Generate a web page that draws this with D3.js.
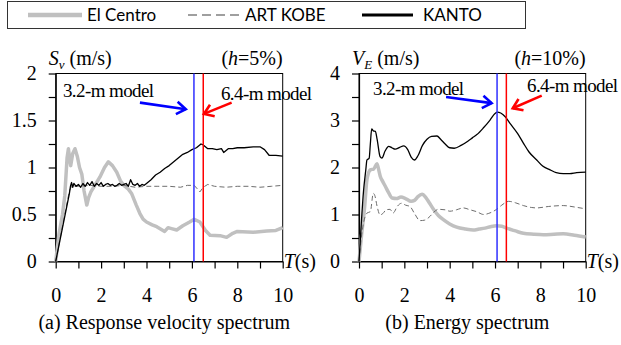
<!DOCTYPE html>
<html>
<head>
<meta charset="utf-8">
<script src="https://cdn.jsdelivr.net/npm/d3@7"></script>
<style>
body{margin:0;background:#fff;}
svg{display:block;}
.tick text{font-family:"Liberation Serif","Times New Roman",serif;font-size:20px;fill:#000;}
</style>
</head>
<body>
<svg id="chart" width="621" height="345"></svg>
<script>
// series names for legend
var seriesNames=["El Centro","ART KOBE","KANTO"];
var xTicks=[0,1,2,3,4,5,6,7,8,9,10];

// (a) response velocity spectrum Sv (m/s), [T, value]
var elCentroSv=[[0,0],[0.15,0.3],[0.3,0.5],[0.4,0.7],[0.5,1.1],[0.56,1.2],[0.62,1.08],[0.66,1.02],[0.75,1.15],[0.85,1.2],[0.95,1.12],[1.05,1.0],[1.15,0.93],[1.25,0.75],[1.37,0.6],[1.45,0.68],[1.55,0.74],[1.75,0.82],[1.95,0.9],[2.15,1.0],[2.32,1.06],[2.5,1.02],[2.69,0.95],[2.85,0.86],[3.0,0.81],[3.2,0.77],[3.35,0.72],[3.55,0.6],[3.71,0.51],[3.85,0.45],[4.0,0.42],[4.25,0.39],[4.45,0.37],[4.8,0.32],[4.95,0.36],[5.1,0.35],[5.33,0.335],[5.6,0.38],[5.9,0.42],[6.1,0.45],[6.35,0.42],[6.6,0.33],[6.8,0.28],[7.24,0.275],[7.53,0.257],[7.8,0.3],[8.0,0.32],[8.7,0.31],[9.3,0.325],[9.7,0.33],[10,0.36]];
var artKobeSv=[[0,0],[0.6,0.75],[0.7,0.8],[1,0.8],[1.5,0.81],[2,0.8],[2.5,0.8],[3,0.81],[3.5,0.79],[4,0.8],[4.5,0.8],[5,0.8],[5.5,0.79],[5.8,0.81],[6.1,0.81],[6.25,0.77],[6.35,0.74],[6.5,0.79],[6.7,0.82],[7,0.8],[7.5,0.79],[8,0.8],[8.5,0.8],[9,0.79],[9.5,0.8],[10,0.81]];
var kantoSv=[[0,0],[0.3,0.36],[0.6,0.72],[0.65,0.8],[0.7,0.84],[0.75,0.79],[0.8,0.83],[0.9,0.8],[1.0,0.82],[1.1,0.79],[1.2,0.83],[1.3,0.8],[1.4,0.84],[1.5,0.81],[1.6,0.85],[1.7,0.8],[1.8,0.83],[1.9,0.81],[2.0,0.84],[2.1,0.8],[2.2,0.82],[2.3,0.83],[2.4,0.81],[2.5,0.82],[2.6,0.8],[2.7,0.81],[2.8,0.83],[2.9,0.81],[3.0,0.82],[3.1,0.83],[3.2,0.8],[3.3,0.87],[3.4,0.82],[3.5,0.81],[3.6,0.83],[3.7,0.8],[3.8,0.82],[3.9,0.81],[4.0,0.83],[4.2,0.87],[4.4,0.92],[4.6,0.95],[4.8,0.99],[5.0,1.02],[5.2,1.06],[5.4,1.1],[5.6,1.14],[5.8,1.16],[6.0,1.19],[6.2,1.21],[6.4,1.25],[6.5,1.24],[6.7,1.2],[6.9,1.2],[7.1,1.19],[7.3,1.2],[7.4,1.16],[7.6,1.2],[7.8,1.2],[8.0,1.21],[8.3,1.21],[8.7,1.22],[9.0,1.22],[9.2,1.19],[9.4,1.13],[9.7,1.13],[10,1.12]];

// (b) energy spectrum VE (m/s), [T, value]
var elCentroVe=[[0,0],[0.1,0.5],[0.25,1.17],[0.35,1.74],[0.5,1.95],[0.65,1.97],[0.79,2.08],[0.87,1.95],[0.94,1.81],[1.05,1.7],[1.16,1.6],[1.3,1.47],[1.46,1.35],[1.65,1.34],[1.85,1.37],[2.05,1.34],[2.3,1.28],[2.45,1.3],[2.6,1.38],[2.78,1.43],[2.95,1.36],[3.1,1.25],[3.3,1.1],[3.5,0.98],[3.72,0.89],[4.0,0.8],[4.31,0.73],[4.7,0.69],[5.04,0.67],[5.3,0.69],[5.56,0.71],[5.8,0.74],[6.07,0.76],[6.3,0.75],[6.51,0.71],[6.9,0.65],[7.25,0.6],[7.7,0.58],[8.13,0.57],[8.6,0.58],[9.01,0.59],[9.5,0.56],[10,0.52]];
var artKobeVe=[[0,0],[0.1,0.5],[0.2,0.82],[0.35,1.03],[0.5,1.06],[0.63,1.45],[0.7,1.4],[0.8,1.17],[0.93,0.99],[1.05,1.02],[1.2,1.1],[1.37,1.11],[1.5,1.03],[1.7,1.18],[1.88,1.24],[2.05,1.2],[2.25,1.17],[2.45,1.02],[2.69,0.87],[2.9,0.88],[3.13,0.96],[3.3,1.05],[3.5,1.11],[3.8,1.1],[4.01,1.07],[4.3,1.1],[4.6,1.14],[4.9,1.1],[5.19,1.06],[5.5,1.0],[5.7,1.02],[6.07,1.11],[6.3,1.2],[6.6,1.28],[6.9,1.25],[7.25,1.19],[7.6,1.15],[7.84,1.14],[8.35,1.17],[9.01,1.19],[9.5,1.16],[10,1.12]];
var kantoVe=[[0,0],[0.1,0.8],[0.2,1.5],[0.3,1.95],[0.35,2.16],[0.45,2.2],[0.5,2.5],[0.56,2.82],[0.63,2.78],[0.72,2.77],[0.8,2.6],[0.93,2.23],[1.01,2.2],[1.15,2.35],[1.31,2.45],[1.45,2.42],[1.6,2.39],[1.8,2.43],[1.97,2.46],[2.15,2.38],[2.3,2.22],[2.45,2.16],[2.6,2.25],[2.8,2.47],[3.0,2.6],[3.2,2.66],[3.44,2.67],[3.6,2.6],[3.8,2.5],[4.0,2.42],[4.2,2.41],[4.5,2.47],[4.8,2.56],[5.0,2.63],[5.2,2.7],[5.5,2.85],[5.78,3.01],[6.0,3.15],[6.1,3.18],[6.25,3.16],[6.45,3.08],[6.66,2.94],[7.0,2.72],[7.25,2.52],[7.5,2.33],[7.84,2.16],[8.1,2.03],[8.43,1.95],[8.7,1.89],[9.01,1.87],[9.3,1.87],[9.6,1.89],[10,1.9]];

// model periods (s)
var modelPeriods=[6.09,6.5];

var svg=d3.select("#chart");
var serif='"Liberation Serif","Times New Roman",serif';

var styles=[
    {stroke:"#c0c0c0",width:3.5,dash:null},
    {stroke:"#6e6e6e",width:1,dash:"5,3"},
    {stroke:"#000",width:1.3,dash:null}
];

function drawPanel(p){
    var x=d3.scaleLinear().domain([0,10]).range([p.left,p.right]);
    var y=d3.scaleLinear().domain([0,p.yMax]).range([261.5,73.5]);
    var g=svg.append("g");

    // frame
    g.append("rect").attr("x",p.left).attr("y",73.5).attr("width",p.right-p.left).attr("height",188)
        .attr("fill","none").attr("stroke","#000").attr("stroke-width",1);

    var yt=d3.range(0,p.yMax+1e-9,p.yStep);
    g.append("g").attr("transform","translate("+p.left+",0)")
        .call(d3.axisLeft(y).tickValues(yt).tickSize(7).tickSizeOuter(0).tickPadding(12)
            .tickFormat(function(d){
                var r=d/p.labelStep;
                return Math.abs(r-Math.round(r))<1e-6 ? String(+d.toFixed(2)) : "";
            }));
    g.append("g").attr("transform","translate(0,261.5)")
        .call(d3.axisBottom(x).tickValues(xTicks).tickSize(7).tickSizeOuter(0).tickPadding(19)
            .tickFormat(function(d){return d%2===0 ? d : "";}));
    g.selectAll(".domain,.tick line").attr("stroke","#000").attr("stroke-width",1.2);

    var line=d3.line().x(function(d){return x(d[0]);}).y(function(d){return y(d[1]);})
        .curve(p.smooth ? d3.curveMonotoneX : d3.curveLinear);
    p.series.forEach(function(s,i){
        g.append("path").datum(s).attr("d",line).attr("fill","none")
            .attr("stroke",styles[i].stroke).attr("stroke-width",styles[i].width)
            .attr("stroke-dasharray",styles[i].dash).attr("stroke-linejoin","round");
    });

    // model period lines
    g.selectAll(".mline").data(modelPeriods).enter().append("line")
        .attr("x1",function(d){return x(d);}).attr("x2",function(d){return x(d);})
        .attr("y1",y(0)).attr("y2",y(p.yMax))
        .attr("stroke",function(d,i){return i===0 ? "#3030ff" : "#ff0000";})
        .attr("stroke-width",1.5);

    // arrows
    p.arrows.forEach(function(a){
        var x1=x(a.from[0]),y1=y(a.from[1]),x2=x(a.to[0]),y2=y(a.to[1]);
        var ang=Math.atan2(y2-y1,x2-x1),hl=11,ha=0.6;
        g.append("line").attr("x1",x1).attr("y1",y1).attr("x2",x2).attr("y2",y2)
            .attr("stroke",a.color).attr("stroke-width",2.6);
        g.append("polyline")
            .attr("points",[
                [x2-hl*Math.cos(ang-ha),y2-hl*Math.sin(ang-ha)],
                [x2,y2],
                [x2-hl*Math.cos(ang+ha),y2-hl*Math.sin(ang+ha)]
            ].join(" "))
            .attr("fill","none").attr("stroke",a.color).attr("stroke-width",2.6);
    });
    p.notes.forEach(function(n){
        g.append("text").attr("x",x(n.at[0])).attr("y",y(n.at[1])).text(n.text)
            .attr("font-family",serif).attr("font-size",19).attr("letter-spacing",-0.6);
    });

    // axis labels
    var yl=g.append("text").attr("x",p.left-7).attr("y",65).attr("font-family",serif).attr("font-size",20);
    yl.append("tspan").attr("font-style","italic").text(p.yName);
    yl.append("tspan").attr("font-style","italic").attr("font-size",13).attr("dy",4).text(p.ySub);
    yl.append("tspan").attr("dy",-4).text(" (m/s)");

    var hl2=g.append("text").attr("x",p.right).attr("y",65).attr("text-anchor","end").attr("font-family",serif).attr("font-size",20);
    hl2.append("tspan").text("(");
    hl2.append("tspan").attr("font-style","italic").text("h");
    hl2.append("tspan").text("="+p.damping+")");

    var tl=g.append("text").attr("x",p.right+1).attr("y",268).attr("font-family",serif).attr("font-size",20);
    tl.append("tspan").attr("font-style","italic").text("T");
    tl.append("tspan").text("(s)");

    g.append("text").attr("x",(p.left+p.right)/2-5).attr("y",329).attr("text-anchor","middle")
        .attr("font-family",serif).attr("font-size",20).text(p.caption);
}

drawPanel({
    left:55.7,right:282.7,yMax:2,yStep:0.25,labelStep:0.5,smooth:false,
    series:[elCentroSv,artKobeSv,kantoSv],
    yName:"S",ySub:"v",damping:"5%",caption:"(a) Response velocity spectrum",
    arrows:[{from:[3.71,1.69],to:[5.73,1.62],color:"#0000ff"},{from:[7.75,1.69],to:[6.53,1.57],color:"#ff0000"}],
    notes:[{at:[0.32,1.75],text:"3.2-m model"},{at:[7.28,1.72],text:"6.4-m model"}]
});
drawPanel({
    left:359,right:585.7,yMax:4,yStep:0.5,labelStep:1,smooth:true,
    series:[elCentroVe,artKobeVe,kantoVe],
    yName:"V",ySub:"E",damping:"10%",caption:"(b) Energy spectrum",
    arrows:[{from:[3.84,3.5],to:[5.85,3.37],color:"#0000ff"},{from:[8.06,3.53],to:[6.78,3.26],color:"#ff0000"}],
    notes:[{at:[0.62,3.55],text:"3.2-m model"},{at:[7.41,3.61],text:"6.4-m model"}]
});

// legend
var lg=svg.append("g");
lg.append("rect").attr("x",7.5).attr("y",1.5).attr("width",518).attr("height",27)
    .attr("fill","#fff").attr("stroke","#333").attr("stroke-width",1);
var legendX=[[28,82,87],[188,241,245],[362,413,423]];
seriesNames.forEach(function(name,i){
    var st=styles[i];
    lg.append("line").attr("x1",legendX[i][0]).attr("x2",legendX[i][1]).attr("y1",15).attr("y2",15)
        .attr("stroke",i===1 ? "#808080" : st.stroke).attr("stroke-width",i===0 ? 4.5 : (i===1 ? 1.5 : 3))
        .attr("stroke-dasharray",i===1 ? "9,5" : null);
    lg.append("text").attr("x",legendX[i][2]).attr("y",21).text(name)
        .attr("font-family","Lato,'Open Sans',sans-serif").attr("font-size",17);
});
</script>
</body>
</html>
